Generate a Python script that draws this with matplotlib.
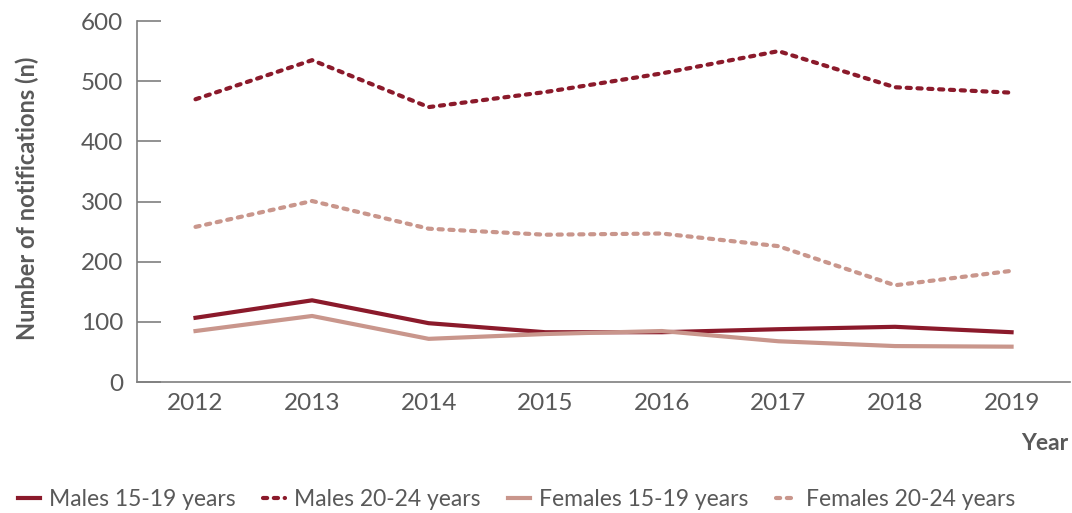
import matplotlib
matplotlib.use("Agg")
from matplotlib import pyplot as plt

plt.rcParams['font.family'] = ['Lato', 'DejaVu Sans']

# Données
years = [2012, 2013, 2014, 2015, 2016, 2017, 2018, 2019]
males_15_19 = [107, 136, 98, 83, 83, 88, 92, 83]
males_20_24 = [470, 535, 457, 482, 513, 550, 490, 481]
females_15_19 = [85, 110, 72, 80, 85, 68, 60, 59]
females_20_24 = [258, 301, 255, 245, 247, 226, 161, 185]
yticks = [0, 100, 200, 300, 400, 500, 600]

dark = '#8b1a2b'
light = '#c9968c'
grey = '#595959'

fig = plt.figure(figsize=(10.72, 5.13), dpi=100)
ax = fig.add_axes([0.128, 0.255, 0.870, 0.704])

dots = (0, (1.0, 1.6))
ax.plot(years, males_15_19, color=dark, lw=3, label='Males 15-19 years',
        solid_joinstyle='round')
ax.plot(years, males_20_24, color=dark, lw=3, linestyle=dots,
        dash_capstyle='round', label='Males 20-24 years')
ax.plot(years, females_15_19, color=light, lw=3, label='Females 15-19 years',
        solid_joinstyle='round')
ax.plot(years, females_20_24, color=light, lw=3, linestyle=dots,
        dash_capstyle='round', label='Females 20-24 years')

ax.set_xlim(2011.5, 2019.5)
ax.set_ylim(0, 600)
ax.set_yticks(yticks)
ax.set_xticks(years)

for s in ['top', 'right']:
    ax.spines[s].set_visible(False)
for s in ['left', 'bottom']:
    ax.spines[s].set_color('#7f7f7f')
    ax.spines[s].set_linewidth(1.2)

ax.tick_params(axis='y', direction='in', length=17, width=1.2, color='#7f7f7f',
               labelsize=17.5, labelcolor=grey, pad=10)
ax.tick_params(axis='x', length=0, labelsize=17.5, labelcolor=grey, pad=8)

ax.set_ylabel('Number of notifications (n)', fontsize=17, fontweight='bold',
              color=grey, labelpad=14)
ax.yaxis.set_label_coords(-0.105, 0.51)
fig.text(0.997, 0.135, 'Year', fontsize=16.5, fontweight='bold', color=grey,
         ha='right', va='center')

leg = fig.legend(loc='lower left', bbox_to_anchor=(0.008, -0.012), ncol=4,
                 frameon=False, fontsize=16.5, handlelength=0.95,
                 columnspacing=1.2, handletextpad=0.4, borderpad=0.2,
                 borderaxespad=0.2)
for t in leg.get_texts():
    t.set_color(grey)

fig.savefig('out.png', dpi=100)
